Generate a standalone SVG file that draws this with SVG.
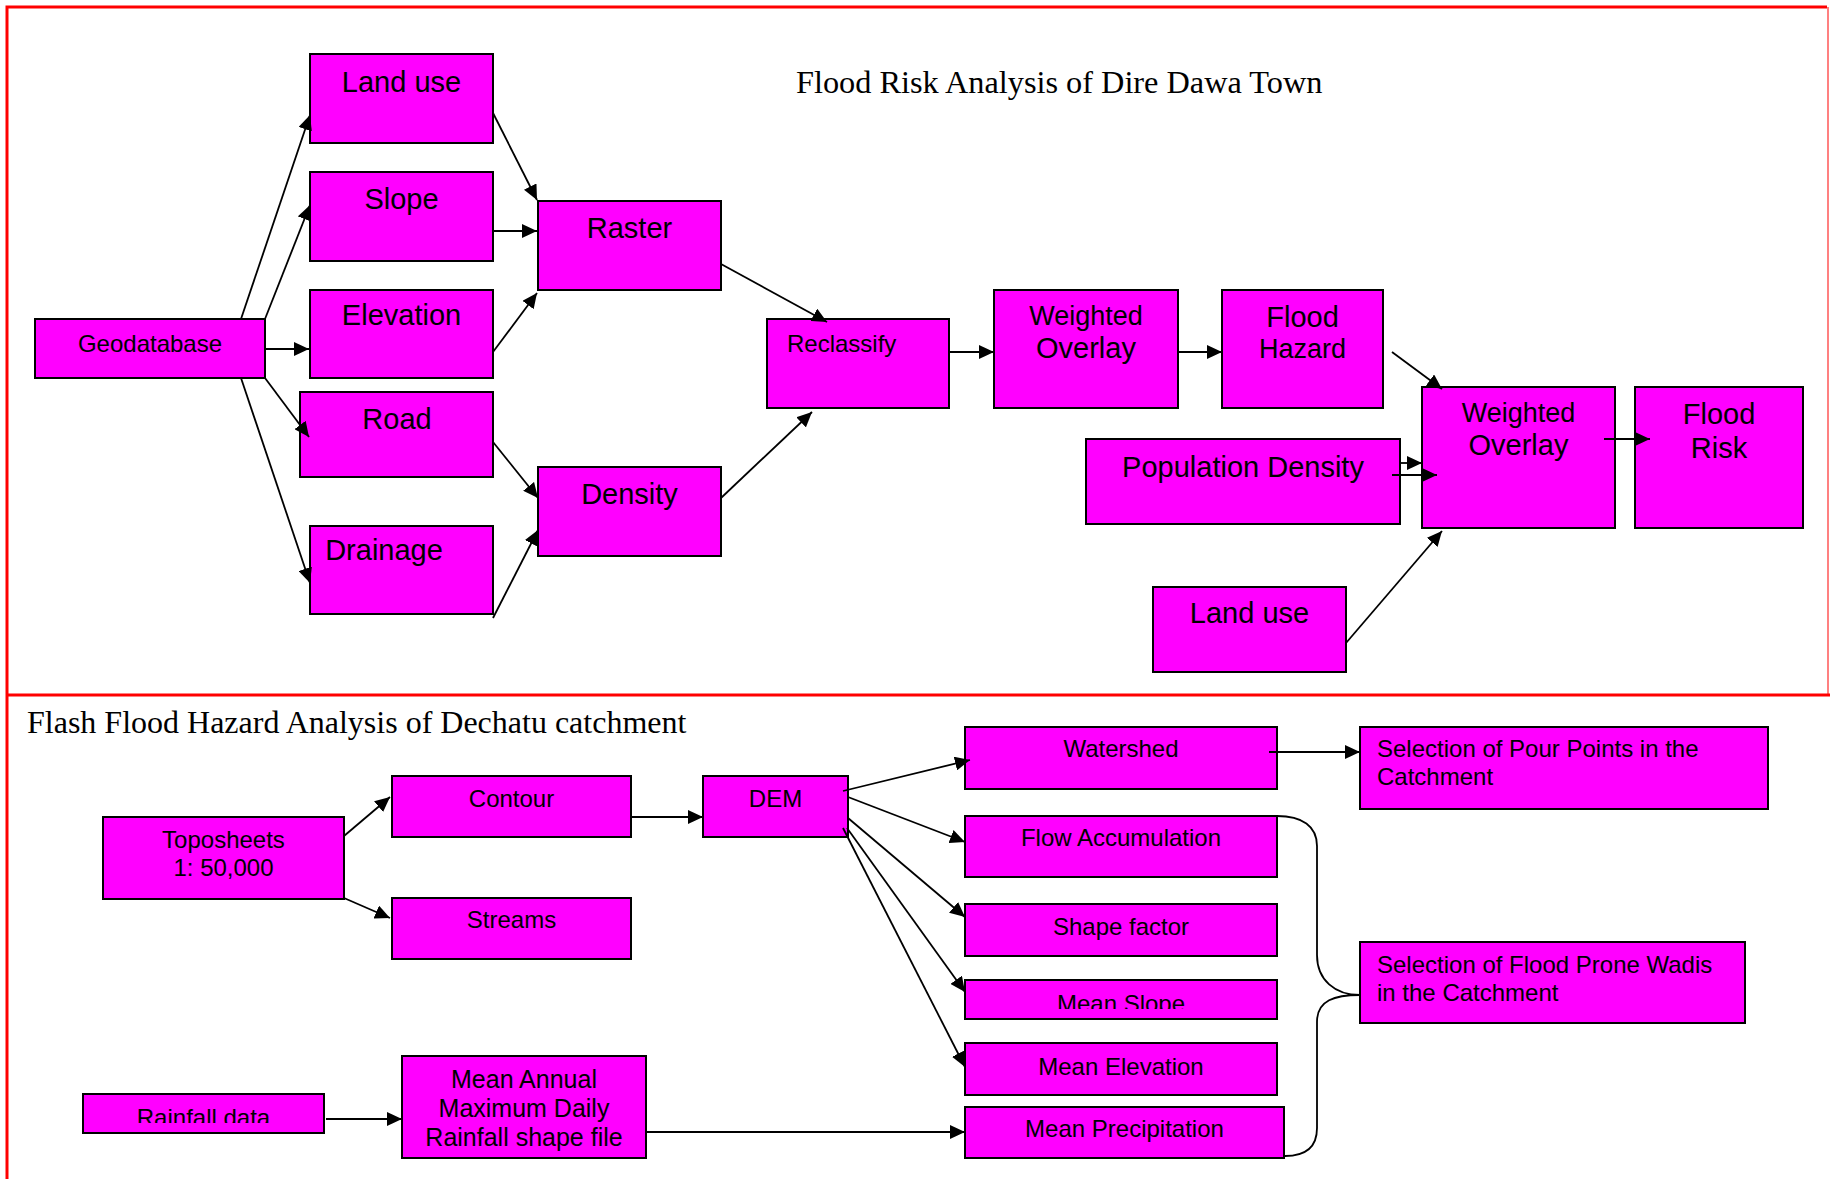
<svg xmlns="http://www.w3.org/2000/svg" width="1830" height="1179" viewBox="0 0 1830 1179">
  <style>
    .box { fill: #ff00ff; stroke: #000; stroke-width: 2; }
    .lbl { font-family: "Liberation Sans", Arial, sans-serif; fill: #000; }
    .big { font-size: 29px; }
    .mid { font-size: 27px; }
    .sm { font-size: 24px; }
    .mc { text-anchor: middle; }
    .title { font-family: "Liberation Serif", "Times New Roman", serif; font-size: 32.3px; fill: #000; }
    .title.lower { font-size: 32px; }
    .frame { fill: none; stroke: #ff0000; stroke-width: 3; }
    .edge { fill: none; stroke: #000; stroke-width: 1.8; }
  </style>
  <defs>
    <marker id="arrow" markerUnits="userSpaceOnUse" markerWidth="16" markerHeight="14" refX="15" refY="7" orient="auto">
      <path d="M0,0 L15,7 L0,14 Z" fill="#000"/>
    </marker>
    <clipPath id="clipRain"><rect x="83" y="1094" width="241" height="29"/></clipPath>
    <clipPath id="clipSlope"><rect x="965" y="980" width="312" height="29"/></clipPath>
  </defs>

  <rect width="1830" height="1179" fill="#fff"/>

  <!-- section frames -->
  <g id="frames">
    <path class="frame" d="M7,695 L7,7 L1827,7"/>
    <line x1="1828" y1="7" x2="1828" y2="695" stroke="#ff8080" stroke-width="2"/>
    <line class="frame" x1="7" y1="695" x2="1830" y2="695"/>
    <line class="frame" x1="7" y1="695" x2="7" y2="1179"/>
  </g>

  <text class="title" x="796" y="93">Flood Risk Analysis of Dire Dawa Town</text>
  <text class="title lower" x="27" y="733">Flash Flood Hazard Analysis of Dechatu catchment</text>

  <!-- upper section nodes -->
  <g id="landuse"><rect class="box" x="310" y="54" width="183" height="89"/><text class="lbl big mc" x="401.5" y="92">Land use</text></g>
  <g id="slope"><rect class="box" x="310" y="172" width="183" height="89"/><text class="lbl big mc" x="401.5" y="209">Slope</text></g>
  <g id="elevation"><rect class="box" x="310" y="290" width="183" height="88"/><text class="lbl big mc" x="401.5" y="325">Elevation</text></g>
  <g id="geodatabase"><rect class="box" x="35" y="319" width="230" height="59"/><text class="lbl sm mc" x="150" y="352">Geodatabase</text></g>
  <g id="road"><rect class="box" x="300" y="392" width="193" height="85"/><text class="lbl big mc" x="397" y="429">Road</text></g>
  <g id="drainage"><rect class="box" x="310" y="526" width="183" height="88"/><text class="lbl big mc" x="384" y="560">Drainage</text></g>
  <g id="raster"><rect class="box" x="538" y="201" width="183" height="89"/><text class="lbl big mc" x="629.5" y="238">Raster</text></g>
  <g id="density"><rect class="box" x="538" y="467" width="183" height="89"/><text class="lbl big mc" x="629.5" y="504">Density</text></g>
  <g id="reclassify"><rect class="box" x="767" y="319" width="182" height="89"/><text class="lbl sm" x="787" y="352">Reclassify</text></g>
  <g id="weighted-overlay-1"><rect class="box" x="994" y="290" width="184" height="118"/><text class="lbl mid mc" x="1086" y="325">Weighted</text><text class="lbl big mc" x="1086" y="358">Overlay</text></g>
  <g id="flood-hazard"><rect class="box" x="1222" y="290" width="161" height="118"/><text class="lbl big mc" x="1302.5" y="327">Flood</text><text class="lbl mid mc" x="1302.5" y="358">Hazard</text></g>
  <g id="population-density"><rect class="box" x="1086" y="439" width="314" height="85"/><text class="lbl big mc" x="1243" y="477">Population Density</text></g>
  <g id="weighted-overlay-2"><rect class="box" x="1422" y="387" width="193" height="141"/><text class="lbl mid mc" x="1518.5" y="422">Weighted</text><text class="lbl big mc" x="1518.5" y="455">Overlay</text></g>
  <g id="flood-risk"><rect class="box" x="1635" y="387" width="168" height="141"/><text class="lbl big mc" x="1719" y="424">Flood</text><text class="lbl big mc" x="1719" y="458">Risk</text></g>
  <g id="landuse-2"><rect class="box" x="1153" y="587" width="193" height="85"/><text class="lbl big mc" x="1249.5" y="623">Land use</text></g>

  <!-- lower section nodes -->
  <g id="toposheets"><rect class="box" x="103" y="817" width="241" height="82"/><text class="lbl sm mc" x="223.5" y="848">Toposheets</text><text class="lbl sm mc" x="223.5" y="876">1: 50,000</text></g>
  <g id="contour"><rect class="box" x="392" y="776" width="239" height="61"/><text class="lbl sm mc" x="511.5" y="807">Contour</text></g>
  <g id="streams"><rect class="box" x="392" y="898" width="239" height="61"/><text class="lbl sm mc" x="511.5" y="928">Streams</text></g>
  <g id="dem"><rect class="box" x="703" y="776" width="145" height="61"/><text class="lbl sm mc" x="775.5" y="807">DEM</text></g>
  <g id="rainfall-data"><rect class="box" x="83" y="1094" width="241" height="39"/><text class="lbl sm mc" x="203.5" y="1126" clip-path="url(#clipRain)">Rainfall data</text></g>
  <g id="mean-annual"><rect class="box" x="402" y="1056" width="244" height="102"/><text class="lbl mc" font-size="25" x="524" y="1088">Mean Annual</text><text class="lbl mc" font-size="25" x="524" y="1117">Maximum Daily</text><text class="lbl mc" font-size="25" x="524" y="1146">Rainfall shape file</text></g>
  <g id="watershed"><rect class="box" x="965" y="727" width="312" height="62"/><text class="lbl sm mc" x="1121" y="757">Watershed</text></g>
  <g id="pour-points"><rect class="box" x="1360" y="727" width="408" height="82"/><text class="lbl sm" x="1377" y="757">Selection of Pour Points in the</text><text class="lbl sm" x="1377" y="785">Catchment</text></g>
  <g id="flow-accumulation"><rect class="box" x="965" y="816" width="312" height="61"/><text class="lbl sm mc" x="1121" y="846">Flow Accumulation</text></g>
  <g id="shape-factor"><rect class="box" x="965" y="904" width="312" height="52"/><text class="lbl sm mc" x="1121" y="935">Shape factor</text></g>
  <g id="mean-slope"><rect class="box" x="965" y="980" width="312" height="39"/><text class="lbl sm mc" x="1121" y="1012" clip-path="url(#clipSlope)">Mean Slope</text></g>
  <g id="mean-elevation"><rect class="box" x="965" y="1043" width="312" height="52"/><text class="lbl sm mc" x="1121" y="1075">Mean Elevation</text></g>
  <g id="mean-precipitation"><rect class="box" x="965" y="1107" width="319" height="51"/><text class="lbl sm mc" x="1124.5" y="1137">Mean Precipitation</text></g>
  <g id="flood-prone-wadis"><rect class="box" x="1360" y="942" width="385" height="81"/><text class="lbl sm" x="1377" y="973">Selection of Flood Prone Wadis</text><text class="lbl sm" x="1377" y="1001">in the Catchment</text></g>

  <!-- connectors, drawn over the boxes -->
  <g id="connectors" class="edge" marker-end="url(#arrow)">
    <line x1="241" y1="319" x2="310" y2="115"/>
    <line x1="265" y1="319" x2="310" y2="205"/>
    <line x1="265" y1="349" x2="309" y2="349"/>
    <line x1="265" y1="378" x2="309" y2="437"/>
    <line x1="241" y1="378" x2="310" y2="583"/>
    <line x1="493" y1="113" x2="537" y2="200"/>
    <line x1="493" y1="231" x2="537" y2="231"/>
    <line x1="493" y1="352" x2="537" y2="293"/>
    <line x1="493" y1="442" x2="538" y2="498"/>
    <line x1="493" y1="618" x2="538" y2="530"/>
    <line x1="721" y1="264" x2="827" y2="322"/>
    <line x1="721" y1="498" x2="812" y2="412"/>
    <line x1="949" y1="352" x2="994" y2="352"/>
    <line x1="1178" y1="352" x2="1222" y2="352"/>
    <line x1="1392" y1="352" x2="1442" y2="389"/>
    <line x1="1399" y1="463" x2="1422" y2="463"/>
    <line x1="1392" y1="475" x2="1437" y2="475"/>
    <line x1="1346" y1="643" x2="1442" y2="531"/>
    <line x1="1604" y1="439" x2="1650" y2="439"/>

    <line x1="344" y1="836" x2="390" y2="797"/>
    <line x1="344" y1="898" x2="390" y2="918"/>
    <line x1="631" y1="817" x2="703" y2="817"/>
    <line x1="843" y1="791" x2="970" y2="760"/>
    <line x1="848" y1="797" x2="965" y2="842"/>
    <line x1="848" y1="818" x2="965" y2="917"/>
    <line x1="847" y1="828" x2="965" y2="992"/>
    <line x1="843" y1="828" x2="965" y2="1067"/>
    <line x1="1269" y1="752" x2="1360" y2="752"/>
    <line x1="326" y1="1119" x2="402" y2="1119"/>
    <line x1="646" y1="1132" x2="965" y2="1132"/>
    <path marker-end="none" d="M1277,816 C1302,816 1317,826 1317,846 L1317,955 C1317,980 1335,995 1360,995 C1335,995 1317,1000 1317,1022 L1317,1128 C1317,1148 1305,1156 1285,1156"/>
  </g>
</svg>
